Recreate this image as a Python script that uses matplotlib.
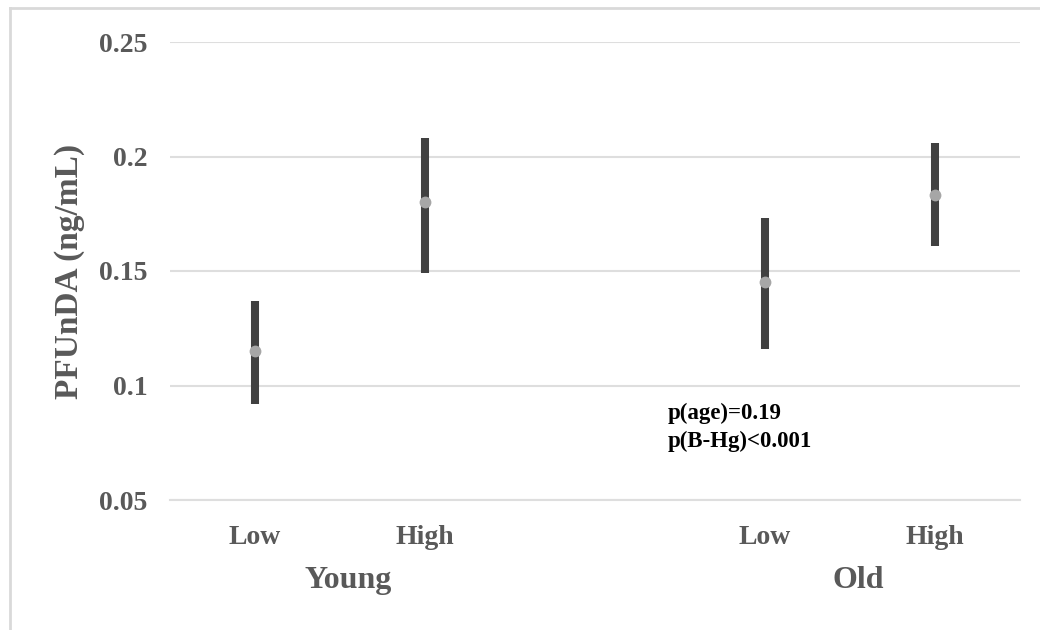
import matplotlib
matplotlib.use('Agg')
import matplotlib.pyplot as plt
from matplotlib.lines import Line2D

# data
groups = ['Young', 'Old']
levels = ['Low', 'High', 'Low', 'High']
xpos = [0, 1, 3, 4]
mean = [0.115, 0.180, 0.145, 0.183]
lower = [0.092, 0.149, 0.116, 0.161]
upper = [0.137, 0.208, 0.173, 0.206]
yticks = [0.05, 0.1, 0.15, 0.2, 0.25]
ytick_labels = ['0.05', '0.1', '0.15', '0.2', '0.25']
notes = ['p(age)=0.19', 'p(B-Hg)<0.001']

grey_txt = '#595959'
plt.rcParams['font.family'] = ['Liberation Serif', 'DejaVu Serif']
plt.rcParams['font.weight'] = 'bold'

fig = plt.figure(figsize=(10.4, 6.3), dpi=100)
ax = fig.add_axes([170 / 1040, 1 - 500 / 630, 850 / 1040, 458 / 630])

ax.vlines(xpos, lower, upper, color='#404040', linewidth=5.8, zorder=3)
ax.plot(xpos, mean, 'o', color='#a6a6a6', markersize=8.5, markeredgewidth=0, zorder=4)

ax.set_xlim(-0.5, 4.5)
ax.set_ylim(0.05, 0.25)
ax.set_yticks(yticks)
ax.set_yticklabels(ytick_labels)
ax.set_xticks(xpos)
ax.set_xticklabels(levels)
ax.tick_params(axis='both', length=0, colors=grey_txt, labelsize=20)
ax.tick_params(axis='y', pad=16)
ax.tick_params(axis='x', pad=18)
for lab in ax.get_xticklabels() + ax.get_yticklabels():
    lab.set_fontweight('bold')
ax.grid(axis='y', color='#dedede', linewidth=1.5)
ax.set_axisbelow(True)
for s in ax.spines.values():
    s.set_visible(False)
ax.axhline(0.05, color='#dedede', linewidth=1.5, clip_on=False)

ax.set_ylabel('PFUnDA (ng/mL)', fontsize=24, fontweight='bold', color=grey_txt, labelpad=10)

# group labels under the categories
for g, xc in zip(groups, [0.55, 3.55]):
    ax.text(xc, -0.175, g, transform=ax.get_xaxis_transform(), ha='center', va='center',
            fontsize=23, fontweight='bold', color=grey_txt)

ax.text(2.43, 0.0880, notes[0], ha='left', va='center', fontsize=16.5, fontweight='bold', color='black')
ax.text(2.43, 0.0758, notes[1], ha='left', va='center', fontsize=16.5, fontweight='bold', color='black')

# light frame of the original export
fig.add_artist(Line2D([10 / 1040, 1], [1 - 8 / 630, 1 - 8 / 630], color='#d9d9d9', linewidth=2,
                      transform=fig.transFigure))
fig.add_artist(Line2D([10 / 1040, 10 / 1040], [0, 1 - 8 / 630], color='#d9d9d9', linewidth=2,
                      transform=fig.transFigure))

fig.savefig('out.png', dpi=100)
